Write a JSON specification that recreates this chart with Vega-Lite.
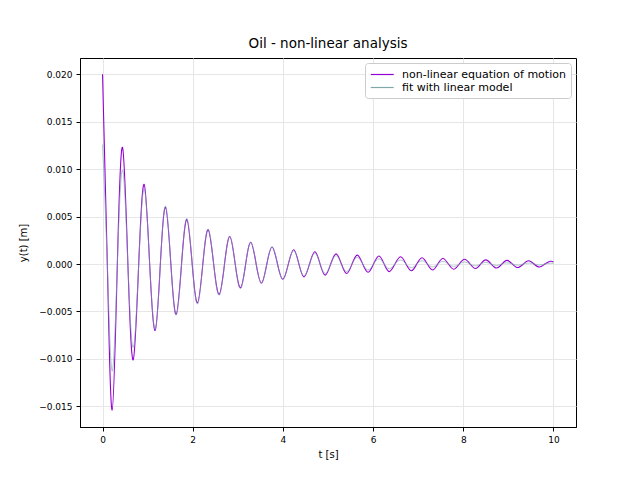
{
  "$schema": "https://vega.github.io/schema/vega-lite/v6.json",
  "width": 496,
  "height": 369,
  "autosize": {"type": "none"},
  "padding": {"left": 80, "top": 58, "right": 64, "bottom": 53},
  "title": {"text": "Oil - non-linear analysis", "fontSize": 13.5, "fontWeight": "normal", "font": "DejaVu Sans", "color": "#000", "offset": 8, "anchor": "middle"},
  "datasets": {
    "nl": [
      {"t":0,"y":0.0200},{"t":0.106,"y":0},{"t":0.213,"y":-0.0154},{"t":0.328,"y":0},{"t":0.443,"y":0.0123},{"t":0.562,"y":0},{"t":0.680,"y":-0.0101},{"t":0.802,"y":0},{"t":0.923,"y":0.0084},{"t":1.045,"y":0},{"t":1.167,"y":-0.0070},{"t":1.282,"y":0},{"t":1.397,"y":0.0060},{"t":1.515,"y":0},{"t":1.633,"y":-0.0053},{"t":1.752,"y":0},{"t":1.870,"y":0.0047},{"t":1.988,"y":0},{"t":2.106,"y":-0.0041},{"t":2.224,"y":0},{"t":2.342,"y":0.0036},{"t":2.464,"y":0},{"t":2.586,"y":-0.0032},{"t":2.705,"y":0},{"t":2.823,"y":0.0029},{"t":2.942,"y":0},{"t":3.060,"y":-0.0025},{"t":3.174,"y":0},{"t":3.288,"y":0.0023},{"t":3.407,"y":0},{"t":3.525,"y":-0.0020},{"t":3.643,"y":0},{"t":3.760,"y":0.0018},{"t":3.880,"y":0},{"t":4.000,"y":-0.0016},{"t":4.120,"y":0},{"t":4.240,"y":0.0015},{"t":4.355,"y":0},{"t":4.470,"y":-0.00135},{"t":4.590,"y":0},{"t":4.710,"y":0.0013},{"t":4.825,"y":0},{"t":4.940,"y":-0.00117},{"t":5.060,"y":0},{"t":5.180,"y":0.00107},{"t":5.298,"y":0},{"t":5.415,"y":-0.00100},{"t":5.533,"y":0},{"t":5.650,"y":0.00094},{"t":5.770,"y":0},{"t":5.890,"y":-0.00087},{"t":6.010,"y":0},{"t":6.130,"y":0.00085},{"t":6.245,"y":0},{"t":6.360,"y":-0.00080},{"t":6.485,"y":0},{"t":6.610,"y":0.00076},{"t":6.730,"y":0},{"t":6.850,"y":-0.00071},{"t":6.968,"y":0},{"t":7.085,"y":0.00067},{"t":7.203,"y":0},{"t":7.320,"y":-0.00063},{"t":7.435,"y":0},{"t":7.550,"y":0.00058},{"t":7.670,"y":0},{"t":7.790,"y":-0.00055},{"t":7.910,"y":0},{"t":8.030,"y":0.00050},{"t":8.150,"y":0},{"t":8.270,"y":-0.00047},{"t":8.385,"y":0},{"t":8.500,"y":0.00044},{"t":8.620,"y":0},{"t":8.740,"y":-0.00042},{"t":8.855,"y":0},{"t":8.970,"y":0.00039},{"t":9.090,"y":0},{"t":9.210,"y":-0.00037},{"t":9.330,"y":0},{"t":9.450,"y":0.00035},{"t":9.570,"y":0},{"t":9.690,"y":-0.00032},{"t":9.810,"y":0},{"t":9.930,"y":0.00029},{"t":10.0,"y":0.00022}
    ],
    "fit": [
      {"t":0,"y":0.0126},{"t":0.106,"y":0},{"t":0.213,"y":-0.0113},{"t":0.328,"y":0},{"t":0.443,"y":0.0099},{"t":0.562,"y":0},{"t":0.680,"y":-0.0088},{"t":0.802,"y":0},{"t":0.923,"y":0.0079},{"t":1.045,"y":0},{"t":1.167,"y":-0.0069},{"t":1.282,"y":0},{"t":1.397,"y":0.0061},{"t":1.515,"y":0},{"t":1.633,"y":-0.0054},{"t":1.752,"y":0},{"t":1.870,"y":0.0048},{"t":1.988,"y":0},{"t":2.106,"y":-0.0042},{"t":2.224,"y":0},{"t":2.342,"y":0.0037},{"t":2.464,"y":0},{"t":2.586,"y":-0.0033},{"t":2.705,"y":0},{"t":2.823,"y":0.0029},{"t":2.942,"y":0},{"t":3.060,"y":-0.0026},{"t":3.174,"y":0},{"t":3.288,"y":0.0023},{"t":3.407,"y":0},{"t":3.525,"y":-0.0020},{"t":3.643,"y":0},{"t":3.760,"y":0.0018},{"t":3.880,"y":0},{"t":4.000,"y":-0.0016},{"t":4.120,"y":0},{"t":4.240,"y":0.0014},{"t":4.355,"y":0},{"t":4.470,"y":-0.00126},{"t":4.590,"y":0},{"t":4.710,"y":0.00112},{"t":4.825,"y":0},{"t":4.940,"y":-0.00099},{"t":5.060,"y":0},{"t":5.180,"y":0.00088},{"t":5.298,"y":0},{"t":5.415,"y":-0.00078},{"t":5.533,"y":0},{"t":5.650,"y":0.00070},{"t":5.770,"y":0},{"t":5.890,"y":-0.00062},{"t":6.010,"y":0},{"t":6.130,"y":0.00055},{"t":6.245,"y":0},{"t":6.360,"y":-0.00049},{"t":6.485,"y":0},{"t":6.610,"y":0.00043},{"t":6.730,"y":0},{"t":6.850,"y":-0.00038},{"t":6.968,"y":0},{"t":7.085,"y":0.00034},{"t":7.203,"y":0},{"t":7.320,"y":-0.00030},{"t":7.435,"y":0},{"t":7.550,"y":0.00027},{"t":7.670,"y":0},{"t":7.790,"y":-0.00024},{"t":7.910,"y":0},{"t":8.030,"y":0.00021},{"t":8.150,"y":0},{"t":8.270,"y":-0.00019},{"t":8.385,"y":0},{"t":8.500,"y":0.00017},{"t":8.620,"y":0},{"t":8.740,"y":-0.00015},{"t":8.855,"y":0},{"t":8.970,"y":0.00013},{"t":9.090,"y":0},{"t":9.210,"y":-0.00012},{"t":9.330,"y":0},{"t":9.450,"y":0.00011},{"t":9.570,"y":0},{"t":9.690,"y":-0.00010},{"t":9.810,"y":0},{"t":9.930,"y":0.00009},{"t":10.0,"y":0.00006}
    ]
  },
  "encoding": {
    "x": {"field": "t", "type": "quantitative", "scale": {"domain": [-0.5, 10.5], "nice": false, "zero": false},
      "axis": {"title": "t [s]", "values": [0, 2, 4, 6, 8, 10], "format": "d", "labelPadding": 4, "titlePadding": 5}},
    "y": {"field": "y", "type": "quantitative", "scale": {"domain": [-0.01718, 0.02172], "nice": false, "zero": false},
      "axis": {"title": "y(t) [m]", "values": [-0.015, -0.01, -0.005, 0, 0.005, 0.01, 0.015, 0.02], "format": ".3f", "labelPadding": 4, "titlePadding": 10}}
  },
  "layer": [
    {
      "data": {"name": "nl"},
      "mark": {"type": "line", "interpolate": "natural", "strokeWidth": 1.1, "clip": true},
      "encoding": {"color": {"datum": "non-linear equation of motion", "type": "nominal",
        "scale": {"domain": ["non-linear equation of motion", "fit with linear model"], "range": ["#9400d3", "#80a8a8"]},
        "legend": {"title": null}}}
    },
    {
      "data": {"name": "fit"},
      "mark": {"type": "line", "interpolate": "natural", "strokeWidth": 1, "strokeOpacity": 0.65, "clip": true},
      "encoding": {"color": {"datum": "fit with linear model", "type": "nominal"}}
    }
  ],
  "config": {
    "font": "DejaVu Sans",
    "view": {"stroke": "#000", "strokeWidth": 1},
    "axis": {"labelFontSize": 9, "titleFontSize": 10, "titleFontWeight": "normal", "labelColor": "#000", "titleColor": "#000",
      "domainColor": "#000", "tickColor": "#000", "tickSize": 4, "gridColor": "#e6e6e6", "gridWidth": 1, "labelFont": "DejaVu Sans", "titleFont": "DejaVu Sans"},
    "legend": {"orient": "top-right", "offset": 5, "padding": 5, "strokeColor": "#cccccc", "fillColor": "#ffffff", "cornerRadius": 3,
      "symbolType": "M-1,0H3", "symbolSize": 132, "symbolStrokeWidth": 1.2, "labelFontSize": 11, "labelColor": "#000", "labelFont": "DejaVu Sans",
      "labelLimit": 400, "rowPadding": 1, "labelOffset": 19}
  }
}
